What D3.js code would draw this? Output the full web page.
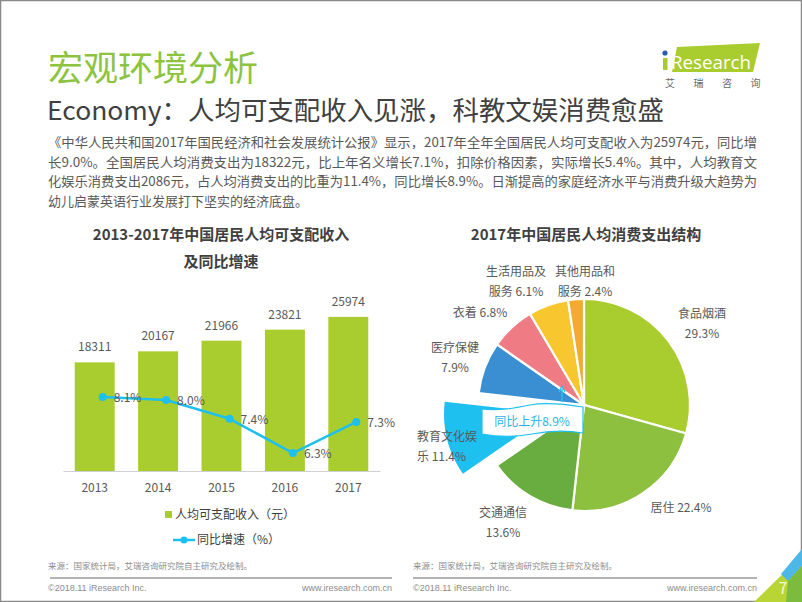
<!DOCTYPE html>
<html><head><meta charset="utf-8">
<script src="https://cdn.jsdelivr.net/npm/d3@7"></script>
<style>
html,body{margin:0;padding:0;background:#fff;}
svg{display:block;font-family:"Noto Sans CJK SC","Noto Sans",sans-serif;}
</style></head>
<body>
<svg id="c" width="802" height="602"></svg>
<script>
// ---------- DATA ----------
const years = ["2013","2014","2015","2016","2017"];
const income = [18311,20167,21966,23821,25974];
const growth = [8.1,8.0,7.4,6.3,7.3];
const pieCats = ["食品烟酒","居住","交通通信","教育文化娱乐","医疗保健","衣着","生活用品及服务","其他用品和服务"];
const pieShares = [29.3,22.4,13.6,11.4,7.9,6.8,6.1,2.4];
const pieLabelLines = [["食品烟酒","29.3%"],["居住 22.4%"],["交通通信","13.6%"],["教育文化娱","乐 11.4%"],["医疗保健","7.9%"],["衣着 6.8%"],["生活用品及","服务 6.1%"],["其他用品和","服务 2.4%"]];
const paraLines = [
 "《中华人民共和国2017年国民经济和社会发展统计公报》显示，2017年全年全国居民人均可支配收入为25974元，同比增",
 "长9.0%。全国居民人均消费支出为18322元，比上年名义增长7.1%，扣除价格因素，实际增长5.4%。其中，人均教育文",
 "化娱乐消费支出2086元，占人均消费支出的比重为11.4%，同比增长8.9%。日渐提高的家庭经济水平与消费升级大趋势为",
 "幼儿启蒙英语行业发展打下坚实的经济底盘。"
];

// ---------- LAYOUT ----------
const svg = d3.select("#c");
const dark = "#404040", mid = "#595959", light = "#8c8c8c";
const pieColors = ["#a9cc2e","#8dc03f","#69ad40","#1ec0ef","#3a8fd3","#ef7c84","#f8c72f","#f3aa2f"];

// frame
svg.append("rect").attr("x",0.5).attr("y",0.5).attr("width",801).attr("height",601)
  .attr("fill","#fff").attr("stroke","#8a8a8a").attr("stroke-width",1.5);

// titles
svg.append("text").attr("x",48).attr("y",81).attr("font-size",35).attr("fill","#8cc43f").text("宏观环境分析");
svg.append("text").attr("x",47).attr("y",120).attr("font-size",26).attr("fill",dark)
  .attr("textLength",617).attr("lengthAdjust","spacingAndGlyphs").text("Economy：人均可支配收入见涨，科教文娱消费愈盛");

// logo
svg.append("path").attr("d","M677,47 L760,43 L753,72 L672,72 Z").attr("fill","#a9cc2e");
svg.append("circle").attr("cx",665).attr("cy",53).attr("r",2.6).attr("fill","#2a5caa");
svg.append("rect").attr("x",663).attr("y",58).attr("width",4.5).attr("height",12).attr("fill","#a9cc2e");
svg.append("text").attr("x",671).attr("y",69).attr("font-size",18).attr("fill","#fff")
  .attr("font-family","'Open Sans','Noto Sans',sans-serif").attr("textLength",80).attr("lengthAdjust","spacingAndGlyphs").text("Research");
["艾","瑞","咨","询"].forEach((t,i)=>{
  svg.append("text").attr("x",670+i*28.5).attr("y",87).attr("font-size",10).attr("text-anchor","middle").attr("fill","#6a6a6a").text(t);
});

// paragraph
paraLines.forEach((t,i)=>{
  const tx = svg.append("text").attr("x",48).attr("y",147+i*19.5).attr("font-size",13).attr("fill",mid).text(t);
  if(i<3) tx.attr("textLength",709).attr("lengthAdjust","spacingAndGlyphs");
});

// ---------- LEFT CHART ----------
svg.append("text").attr("x",221).attr("y",240).attr("text-anchor","middle").attr("font-size",15).attr("font-weight","bold").attr("fill",dark).text("2013-2017年中国居民人均可支配收入");
svg.append("text").attr("x",221).attr("y",267).attr("text-anchor","middle").attr("font-size",15).attr("font-weight","bold").attr("fill",dark).text("及同比增速");

const x = d3.scaleBand().domain(years).range([63,380]).paddingInner(0.37).paddingOuter(0.185);
const y = d3.scaleLinear().domain([0,30000]).range([471,293]);
const yg = d3.scaleLinear().domain([6.3,8.1]).range([453,397]);
const barColor = "#a9cc2e", lineColor = "#1ec0ef";

svg.selectAll(".bar").data(years).enter().append("rect")
  .attr("x",d=>x(d)).attr("width",x.bandwidth())
  .attr("y",(d,i)=>y(income[i])).attr("height",(d,i)=>y(0)-y(income[i]))
  .attr("fill",barColor);
svg.selectAll(".bl").data(years).enter().append("text")
  .attr("x",d=>x(d)+x.bandwidth()/2).attr("y",(d,i)=>y(income[i])-11)
  .attr("text-anchor","middle").attr("font-size",12).attr("fill",mid).text((d,i)=>income[i]);

const xAxis = svg.append("g").attr("transform","translate(0,471)").call(d3.axisBottom(x).tickSize(0).tickPadding(12));
xAxis.select(".domain").attr("stroke","#d0d0d0").attr("stroke-width",1.2);
xAxis.selectAll("text").attr("font-size",12).attr("fill",mid).attr("font-family","'Noto Sans CJK SC',sans-serif");

const lx = (d)=>x(d)+x.bandwidth()/2+8;
const line = d3.line().x((d,i)=>lx(years[i])).y(d=>yg(d));
svg.append("path").datum(growth).attr("d",line).attr("fill","none").attr("stroke",lineColor).attr("stroke-width",2.5);
svg.selectAll(".pt").data(growth).enter().append("circle")
  .attr("cx",(d,i)=>lx(years[i])).attr("cy",d=>yg(d)).attr("r",4).attr("fill",lineColor);
svg.selectAll(".gl").data(growth).enter().append("text")
  .attr("x",(d,i)=>lx(years[i])+11).attr("y",d=>yg(d)+5)
  .attr("font-size",12).attr("fill",mid).text(d=>d.toFixed(1)+"%");

// legend
svg.append("rect").attr("x",165).attr("y",511).attr("width",7).attr("height",7).attr("fill",barColor);
svg.append("text").attr("x",175).attr("y",519).attr("font-size",12).attr("fill",dark).text("人均可支配收入（元）");
svg.append("line").attr("x1",173).attr("x2",195).attr("y1",540).attr("y2",540).attr("stroke",lineColor).attr("stroke-width",2.5);
svg.append("circle").attr("cx",184).attr("cy",540).attr("r",3.5).attr("fill",lineColor);
svg.append("text").attr("x",197).attr("y",544).attr("font-size",12).attr("fill",dark).text("同比增速（%）");

// ---------- RIGHT CHART (pie) ----------
svg.append("text").attr("x",586).attr("y",240).attr("text-anchor","middle").attr("font-size",15).attr("font-weight","bold").attr("fill",dark).text("2017年中国居民人均消费支出结构");

const cx = 584, cy = 405, R = 106;
const pie = d3.pie().sort(null).value(d=>d)(pieShares);
const arc = d3.arc().innerRadius(0).outerRadius(R);
const explodeIdx = 3, explodeDist = 35;
const pg = svg.append("g").attr("transform",`translate(${cx},${cy})`);
pg.selectAll("path").data(pie).enter().append("path")
  .attr("d",arc).attr("fill",(d,i)=>pieColors[i])
  .attr("stroke","#fff").attr("stroke-width",(d,i)=>i===explodeIdx?0:2.2)
  .attr("transform",(d,i)=>{
    if(i!==explodeIdx) return null;
    const a=(d.startAngle+d.endAngle)/2;
    return `translate(${Math.sin(a)*explodeDist},${-Math.cos(a)*explodeDist})`;
  });

// pie labels
const labelPos = [[702,318,"middle"],[681,512,"middle"],[503,517,"middle"],[417,441,"start"],[455,352,"middle"],[480,317,"middle"],[516,276,"middle"],[585,276,"middle"]];
pieLabelLines.forEach((lines,i)=>{
  const [lx0,ly0,anc] = labelPos[i];
  lines.forEach((t,j)=>{
    svg.append("text").attr("x",lx0).attr("y",ly0+j*19.5).attr("text-anchor",anc)
      .attr("font-size",12).attr("fill",mid).text(t);
  });
});

// callout
svg.append("line").attr("x1",562).attr("x2",562).attr("y1",402).attr("y2",389).attr("stroke",lineColor).attr("stroke-width",1.5);
svg.append("path").attr("d","M559,392 L562,386 L565,392").attr("fill","none").attr("stroke",lineColor).attr("stroke-width",1.2);
svg.append("path")
  .attr("d","M482,409 C500,411 515,408 530,405 C545,402 565,404 583,407 L583,433 C565,430 548,431 532,434 C515,437 498,437 482,434 Z")
  .attr("fill","#fff").attr("stroke",lineColor).attr("stroke-width",1.2);
svg.append("text").attr("x",532).attr("y",426).attr("text-anchor","middle").attr("font-size",12).attr("fill","#29b3e6").text("同比上升8.9%");

// ---------- FOOTER ----------
const src = "来源：国家统计局，艾瑞咨询研究院自主研究及绘制。";
svg.append("text").attr("x",48).attr("y",569).attr("font-size",8.5).attr("fill",light).text(src);
svg.append("text").attr("x",413).attr("y",569).attr("font-size",8.5).attr("fill",light).text(src);
svg.append("line").attr("x1",50).attr("x2",392).attr("y1",578).attr("y2",578).attr("stroke","#9a9a9a").attr("stroke-width",1.5);
svg.append("line").attr("x1",413).attr("x2",757).attr("y1",578).attr("y2",578).attr("stroke","#9a9a9a").attr("stroke-width",1.5);
const ff = "'Liberation Sans',Arial,sans-serif";
svg.append("text").attr("x",48).attr("y",591).attr("font-size",9).attr("font-family",ff).attr("fill",light).text("©2018.11 iResearch Inc.");
svg.append("text").attr("x",392).attr("y",591).attr("text-anchor","end").attr("font-size",9).attr("font-family",ff).attr("fill",light).text("www.iresearch.com.cn");
svg.append("text").attr("x",413).attr("y",591).attr("font-size",9).attr("font-family",ff).attr("fill",light).text("©2018.11 iResearch Inc.");
svg.append("text").attr("x",757).attr("y",591).attr("text-anchor","end").attr("font-size",9).attr("font-family",ff).attr("fill",light).text("www.iresearch.com.cn");

// corner decoration
svg.append("path").attr("d","M754,602 L802,555 L802,602 Z").attr("fill","#b9d535");
svg.append("path").attr("d","M781,574 L802,549 L802,566 L788,581 Z").attr("fill","#4db8e8");
svg.append("path").attr("d","M788,581 L802,566 L802,602 L786,602 Z").attr("fill","#7dbb3e");
svg.append("text").attr("x",783).attr("y",594).attr("text-anchor","middle").attr("font-size",16).attr("fill","#f4f8d0").text("7");
</script>
</body></html>
